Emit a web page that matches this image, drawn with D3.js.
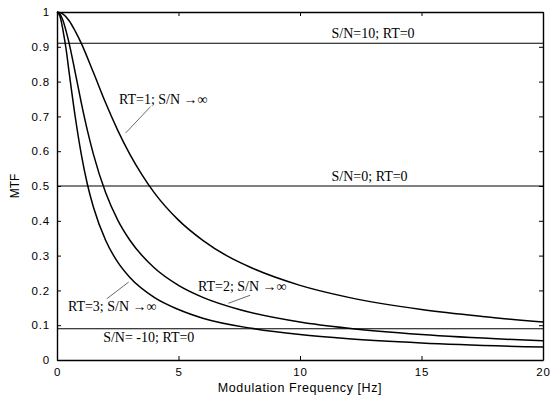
<!DOCTYPE html>
<html>
<head>
<meta charset="utf-8">
<script src="https://cdn.jsdelivr.net/npm/d3@7"></script>
<style>
  body { margin: 0; background: #fff; }
  .tick text { font-family: Arial, "Liberation Sans", sans-serif; font-size: 11.5px; letter-spacing: 0.8px; }
  .note { font-family: "Times New Roman", "Liberation Serif", serif; font-size: 14px; }
</style>
</head>
<body>
<div id="chart"></div>
<script>
// curves: modulation frequency [Hz] vs MTF
const freq_rt1 = [0, 0.25, 0.5, 0.75, 1, 1.5, 2, 2.5, 3, 3.5, 4, 5, 6, 7, 8, 10, 12, 15, 17.5, 20];
const mtf_rt1  = [1, 0.994, 0.975, 0.945, 0.91, 0.826, 0.739, 0.66, 0.591, 0.532, 0.481, 0.402, 0.344, 0.299, 0.265, 0.2145, 0.18, 0.145, 0.125, 0.109];

const freq_rt2 = [0, 0.125, 0.25, 0.375, 0.5, 0.75, 1, 1.25, 1.5, 2, 2.5, 3, 4, 5, 6, 7.5, 10, 12, 15, 20];
const mtf_rt2  = [1, 0.994, 0.975, 0.945, 0.91, 0.826, 0.739, 0.66, 0.591, 0.481, 0.402, 0.344, 0.265, 0.2145, 0.18, 0.145, 0.109, 0.091, 0.073, 0.055];

const freq_rt3 = [0, 0.125, 0.25, 0.375, 0.5, 0.75, 1, 1.25, 1.5, 2, 2.5, 3, 4, 5, 6, 8, 10, 12, 15, 20];
const mtf_rt3  = [1, 0.987, 0.946, 0.893, 0.826, 0.699, 0.591, 0.505, 0.439, 0.344, 0.281, 0.237, 0.18, 0.145, 0.12, 0.091, 0.073, 0.061, 0.049, 0.037];

// flat lines for the noise-only cases
const noise_levels = [0.91, 0.5, 0.09];
const noise_labels = ["S/N=10; RT=0", "S/N=0; RT=0", "S/N= -10; RT=0"];

const x_ticks = [0, 5, 10, 15, 20];
const y_ticks = [0, 0.1, 0.2, 0.3, 0.4, 0.5, 0.6, 0.7, 0.8, 0.9, 1];

const width = 551, height = 398;
const margin = {top: 12, right: 8, bottom: 38, left: 57};
const w = width - margin.left - margin.right,
      h = height - margin.top - margin.bottom;

const svg = d3.select("#chart").append("svg")
    .attr("width", width)
    .attr("height", height);

const g = svg.append("g")
    .attr("transform", "translate(" + margin.left + "," + margin.top + ")");

const x = d3.scaleLinear().domain([0, 20]).range([0, w]);
const y = d3.scaleLinear().domain([0, 1]).range([h, 0]);

// axes, ticks pointing inward on all four sides
g.append("g")
    .attr("transform", "translate(0," + h + ")")
    .call(d3.axisBottom(x).tickValues(x_ticks).tickSizeInner(-4).tickSizeOuter(0).tickPadding(8).tickFormat(d3.format("d")));
g.append("g")
    .call(d3.axisTop(x).tickValues(x_ticks).tickSizeInner(-4).tickSizeOuter(0).tickFormat(""));
g.append("g")
    .call(d3.axisLeft(y).tickValues(y_ticks).tickSizeInner(-4).tickSizeOuter(0).tickPadding(7).tickFormat(d => d === 0 || d === 1 ? d3.format("d")(d) : d3.format(".1f")(d)));
g.append("g")
    .attr("transform", "translate(" + w + ",0)")
    .call(d3.axisRight(y).tickValues(y_ticks).tickSizeInner(-4).tickSizeOuter(0).tickFormat(""));

g.selectAll(".domain").attr("stroke", "#000").attr("stroke-width", 1.4);
g.selectAll(".tick line").attr("stroke", "#000");

// horizontal noise lines
g.selectAll(".noise").data(noise_levels).enter().append("line")
    .attr("class", "noise")
    .attr("x1", 0).attr("x2", w)
    .attr("y1", d => y(d)).attr("y2", d => y(d))
    .attr("stroke", "#000").attr("stroke-width", 1.1);

// reverberation curves
const line = d3.line()
    .x(d => x(d[0]))
    .y(d => y(d[1]))
    .curve(d3.curveMonotoneX);

[[freq_rt1, mtf_rt1], [freq_rt2, mtf_rt2], [freq_rt3, mtf_rt3]].forEach(function(s){
  g.append("path")
      .datum(d3.zip(s[0], s[1]))
      .attr("fill", "none")
      .attr("stroke", "#000")
      .attr("stroke-width", 1.5)
      .attr("d", line);
});

// annotations
const notes = [
  {text: noise_labels[0], x: 11.3, y: 0.925},
  {text: noise_labels[1], x: 11.3, y: 0.515},
  {text: noise_labels[2], x: 1.9, y: 0.052},
  {text: "RT=1; S/N \u2192\u221e", x: 2.55, y: 0.737},
  {text: "RT=2; S/N \u2192\u221e", x: 5.8, y: 0.197},
  {text: "RT=3; S/N \u2192\u221e", x: 0.45, y: 0.14}
];
g.selectAll(".note").data(notes).enter().append("text")
    .attr("class", "note")
    .attr("x", d => x(d.x))
    .attr("y", d => y(d.y))
    .text(d => d.text);

// leader lines from labels to curves
const leaders = [
  [[2.82, 0.652], [3.85, 0.728]],
  [[7.05, 0.163], [7.95, 0.186]],
  [[2.05, 0.176], [2.95, 0.224]]
];
g.selectAll(".leader").data(leaders).enter().append("line")
    .attr("x1", d => x(d[0][0])).attr("y1", d => y(d[0][1]))
    .attr("x2", d => x(d[1][0])).attr("y2", d => y(d[1][1]))
    .attr("stroke", "#444").attr("stroke-width", 0.8);

// axis titles
svg.append("text")
    .attr("x", margin.left + w / 2)
    .attr("y", 392)
    .attr("text-anchor", "middle")
    .style("font-family", "Arial, 'Liberation Sans', sans-serif")
    .style("font-size", "12.5px")
    .style("letter-spacing", "0.6px")
    .text("Modulation Frequency [Hz]");
svg.append("text")
    .attr("transform", "translate(19," + (margin.top + h / 2) + ") rotate(-90)")
    .attr("text-anchor", "middle")
    .style("font-family", "Arial, 'Liberation Sans', sans-serif")
    .style("font-size", "12px")
    .text("MTF");
</script>
</body>
</html>
